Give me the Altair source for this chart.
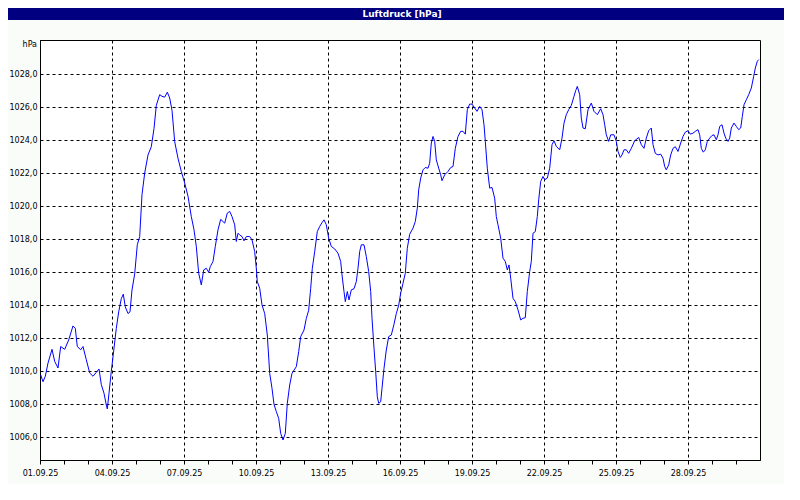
import altair as alt
import pandas as pd

# ---- data ----
start = "2025-09-01 00:00"
hours = [0.7, 3, 5.3, 8, 12, 14.7, 18, 20.7, 24.7, 28.7, 33, 35.3, 37.3, 40.7, 43, 46.3, 49.7, 53, 56.3, 59,
         61.3, 64, 66.3, 67.3, 69, 71.3, 74, 76.3, 78.7, 81.3, 83.3, 85.3, 88, 90, 92, 94.7, 97.3, 99.7, 102,
         104.7, 108, 111.3, 114, 116.3, 119.7, 122, 124.7, 127.3, 129.7, 132, 134.7, 138, 141.3, 144.7, 148,
         151.3, 154, 156.3, 158.7, 161.3, 163.7, 166.3, 168.7, 170.3, 173, 175.3, 178, 180.7, 184.7, 187.3,
         189.7, 192, 194.7, 196.3, 198, 199.7, 202, 204, 206.3, 209.7, 212, 214.7, 216.3, 217.3, 219.7, 222,
         224.7, 227.3, 229.7, 232, 234, 236.3, 238.7, 240.7, 243, 245.3, 247.3, 249.7, 252, 256.3, 258.7,
         260.7, 264, 266.3, 268.7, 270.7, 272.3, 274.7, 277.3, 279.7, 282, 284, 286.3, 288.7, 291.3, 294.7,
         298, 300.7, 302, 304, 305.3, 307.3, 309, 311.3, 314, 316.3, 318, 319.7, 321.3, 324, 326.3, 328.7,
         330.7, 332, 334, 335.7, 337.3, 338.7, 340.7, 342, 344, 346.3, 348.7, 351.3, 354, 356.3, 358.7,
         360.7, 363, 365.3, 367.3, 369.7, 373, 375.3, 377.3, 378.7, 380.7, 383, 385.3, 388, 389.7, 391.3,
         393, 394.7, 396.3, 398.7, 400.7, 402, 404.7, 408, 410.7, 413, 415.3, 418, 420.7, 423, 425.3, 427.3,
         429.7, 432, 434.7, 437, 439.7, 442, 444, 445.3, 447.3, 449.7, 452, 454.7, 456.3, 458, 460.7, 463,
         465.3, 467.3, 469, 470.7, 473, 475.3, 478, 480.7, 483, 485.3, 487.3, 489.7, 491.3, 493, 495.3,
         497.3, 498.7, 500.7, 503, 504.7, 507.3, 509.7, 512, 514, 516.3, 519.7, 522, 524, 526.3, 528.7,
         531.3, 534, 535.7, 537.3, 539.7, 541.3, 543, 545.3, 548, 551.3, 554, 557.3, 560.7, 563, 564.7,
         566.3, 568.7, 570.7, 574, 576.3, 578, 580.3, 582, 584, 586.3, 588.7, 591.3, 594.7, 598.7, 601.3,
         604, 606.3, 608.7, 611.3, 613, 615.3, 618, 620.7, 623, 624.7, 626.3, 628.7, 630.7, 633, 635.3,
         638, 640.7, 643, 645.3, 648, 650.3, 653, 655.3, 658, 659.7, 661.3, 663.3, 665.3, 667.3, 669.7,
         672, 674, 676.3, 678, 679.7, 682, 684, 685.7, 688, 689.7, 691.3, 694, 696.3, 698.7, 700.7, 702.3,
         704, 706.3, 708.7, 711.3, 713.7, 715.3, 717.3, 718.7]
pressure = [1009.78, 1009.37, 1009.7, 1010.5, 1011.33, 1010.6, 1010.2, 1011.5, 1011.33, 1011.9, 1012.75,
            1012.6, 1011.5, 1011.3, 1011.5, 1010.7, 1009.9, 1009.7, 1009.94, 1010.14, 1009.2, 1008.67,
            1007.96, 1007.72, 1008.67, 1010.0, 1011.4, 1012.6, 1013.6, 1014.4, 1014.67, 1013.9, 1013.5,
            1013.6, 1014.93, 1015.9, 1017.66, 1018.16, 1020.7, 1022.0, 1023.1, 1023.6, 1024.7, 1026.1,
            1026.75, 1026.65, 1026.6, 1026.9, 1026.55, 1025.8, 1023.9, 1022.9, 1022.1, 1021.4, 1020.6,
            1019.37, 1018.57, 1017.56, 1015.94, 1015.23, 1016.14, 1016.24, 1016.0, 1016.34, 1016.65,
            1017.56, 1018.57, 1019.2, 1018.97, 1019.58, 1019.68, 1019.37, 1018.87, 1017.86, 1018.36,
            1018.26, 1018.16, 1017.9, 1018.16, 1018.16, 1017.96, 1017.25, 1016.24, 1015.43, 1015.03,
            1014.02, 1013.5, 1012.2, 1009.88, 1008.97, 1008.0, 1007.56, 1007.15, 1006.24, 1005.84,
            1006.24, 1008.06, 1009.17, 1009.88, 1010.28, 1011.19, 1012.1, 1012.5, 1013.2, 1013.7,
            1015.03, 1016.24, 1017.25, 1018.46, 1018.77, 1019.0, 1019.17, 1018.87, 1018.06, 1017.56,
            1017.41, 1017.15, 1016.65, 1015.84, 1014.83, 1014.22, 1014.83, 1014.32, 1014.93, 1015.0,
            1015.43, 1016.24, 1017.25, 1017.66, 1017.66, 1016.95, 1016.04, 1014.83, 1013.21, 1011.4,
            1009.98, 1008.46, 1008.06, 1008.16, 1008.97, 1010.18, 1011.29, 1012.1, 1012.2, 1012.85,
            1013.5, 1014.0, 1014.73, 1015.33, 1015.94, 1017.45, 1018.3, 1018.67, 1019.07, 1019.88,
            1020.99, 1021.7, 1022.2, 1022.34, 1022.3, 1022.6, 1023.82, 1024.22, 1023.92, 1022.8, 1022.3,
            1021.9, 1021.54, 1021.9, 1022.1, 1022.34, 1022.4, 1023.5, 1024.22, 1024.53, 1024.53, 1024.36,
            1025.84, 1026.18, 1026.18, 1025.94, 1025.74, 1026.04, 1025.84, 1024.93, 1023.92, 1022.3,
            1021.09, 1021.13, 1020.48, 1019.37, 1018.87, 1018.06, 1016.85, 1016.65, 1016.14, 1016.44,
            1015.64, 1014.42, 1014.22, 1013.72, 1013.11, 1013.21, 1013.25, 1014.83, 1016.04, 1016.65,
            1018.36, 1018.46, 1019.37, 1020.38, 1021.5, 1021.8, 1021.6, 1021.7, 1022.3, 1023.72, 1023.96,
            1023.62, 1023.41, 1024.12, 1025.03, 1025.54, 1025.84, 1026.1, 1026.65, 1027.0, 1027.25,
            1026.75, 1025.33, 1024.73, 1024.69, 1025.84, 1026.24, 1025.74, 1025.54, 1025.9, 1025.54,
            1024.93, 1024.32, 1023.92, 1024.32, 1024.32, 1023.92, 1023.31, 1022.95, 1023.1, 1023.41,
            1023.41, 1023.2, 1023.5, 1023.96, 1024.16, 1023.72, 1023.5, 1024.12, 1024.57, 1024.73,
            1023.72, 1023.2, 1023.1, 1023.15, 1022.9, 1022.4, 1022.2, 1022.5, 1023.1, 1023.5, 1023.6,
            1023.31, 1023.82, 1024.22, 1024.48, 1024.57, 1024.36, 1024.42, 1024.53, 1024.63, 1024.32,
            1023.5, 1023.27, 1023.41, 1023.92, 1024.12, 1024.28, 1024.32, 1024.02, 1024.32, 1024.83,
            1024.93, 1024.42, 1024.12, 1023.92, 1024.12, 1024.73, 1025.03, 1024.83, 1024.63, 1024.73,
            1025.43, 1026.14, 1026.44, 1026.75, 1027.15, 1027.86, 1028.36, 1028.77, 1028.87]
tick_days = list(range(1, 31))
y_ticks = [1006, 1008, 1010, 1012, 1014, 1016, 1018, 1020, 1022, 1024, 1026, 1028]
y_domain = [1004.63, 1030.06]
title_text = "Luftdruck [hPa]"
unit_text = "hPa"

times = pd.Timestamp(start) + pd.to_timedelta(hours, unit="h")
df = pd.DataFrame({"time": times, "hpa": pressure})
one = pd.DataFrame({"k": [0]})

FONT = "DejaVu Sans"

x_axis = alt.Axis(
    values=[alt.DateTime(year=2025, month=9, date=d) for d in tick_days],
    labelExpr="(date(datum.value) - 1) % 3 === 0 ? timeFormat(datum.value, '%d.%m.%y') : ''",
    labelOverlap=False, labelFlush=False, labelFont=FONT, labelFontSize=8, labelColor="#000000",
    labelPadding=5, ticks=True, tickSize=4, tickColor="#000000", tickWidth=1,
    domain=True, domainColor="#000000", domainWidth=1,
    grid=True, gridColor="#000000", gridWidth=1, gridDash=[3, 3],
    gridOpacity={"condition": {"test": "(date(datum.value) - 1) % 3 === 0", "value": 1}, "value": 0},
    title=None,
)
y_axis = alt.Axis(
    values=y_ticks,
    labelExpr="replace(format(datum.value, '.1f'), '.', ',')",
    labelOverlap=False, labelFlush=False, labelFont=FONT, labelFontSize=8, labelColor="#000000",
    labelPadding=3, ticks=False, domain=True, domainColor="#000000", domainWidth=1,
    grid=True, gridColor="#000000", gridWidth=1, gridDash=[3, 3],
    title=None,
)

line = alt.Chart(df).mark_line(color="#0000FF", strokeWidth=1, clip=True).encode(
    x=alt.X("time:T", axis=x_axis,
            scale=alt.Scale(domain=[alt.DateTime(year=2025, month=9, date=1),
                                    alt.DateTime(year=2025, month=10, date=1)], nice=False)),
    y=alt.Y("hpa:Q", axis=y_axis, scale=alt.Scale(domain=y_domain, nice=False, zero=False)),
)

title_bar = alt.Chart(one).mark_rect(color="#000080").encode(
    x=alt.value(-32), x2=alt.value(752), y=alt.value(-32), y2=alt.value(-20)
)
title_lbl = alt.Chart(one).mark_text(
    text=title_text, font=FONT, fontSize=9, fontWeight="bold", color="#FFFFFF",
    align="center", baseline="middle"
).encode(x=alt.value(362), y=alt.value(-26))
unit_lbl = alt.Chart(one).mark_text(
    text=unit_text, font=FONT, fontSize=8, color="#000000", align="right", baseline="middle"
).encode(x=alt.value(-3), y=alt.value(5))

chart = alt.layer(title_bar, title_lbl, unit_lbl, line).properties(
    width=720, height=420,
    autosize=alt.AutoSizeParams(type="none"),
    padding={"left": 32, "top": 32, "right": 24, "bottom": 24},
    background="#FAFCFA",
).configure_view(stroke="#000000", strokeWidth=1, fill="#FFFFFF")

chart.save("out.html", embed_options={"renderer": "svg", "actions": False})
